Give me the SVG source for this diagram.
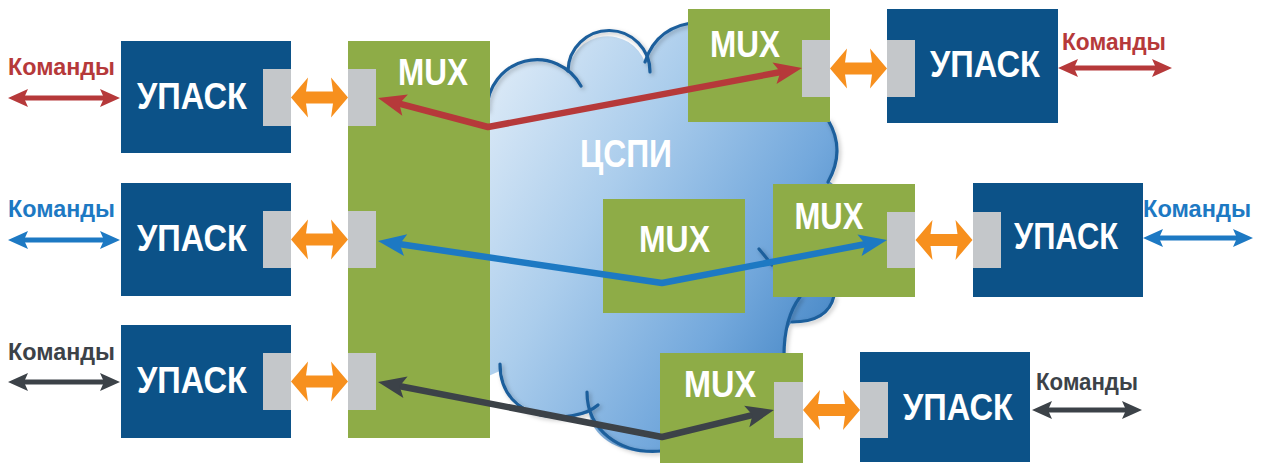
<svg xmlns="http://www.w3.org/2000/svg" width="1265" height="466" viewBox="0 0 1265 466">
<defs>
<style>
.upask{fill:#0c5288}
.mux{fill:#8eac47}
.port{fill:#c4c7ca}
.t{font-family:"Liberation Sans",Arial,sans-serif;font-weight:bold;fill:#fff;font-size:36px}
.cmd{font-family:"Liberation Sans",Arial,sans-serif;font-weight:bold;font-size:23px}
.net{fill:none;stroke-width:6.5;stroke-linejoin:round}
.cl{fill:none;stroke-width:5}
.co{fill:none;stroke:#1d5f9c;stroke-width:3.2;stroke-linecap:round}
</style>
<linearGradient id="cg" x1="0" y1="0.15" x2="1" y2="0.85">
<stop offset="0" stop-color="#dceaf7"/>
<stop offset="0.35" stop-color="#abcdec"/>
<stop offset="0.7" stop-color="#73a8dc"/>
<stop offset="1" stop-color="#3a7ec0"/>
</linearGradient>
<filter id="sh" x="-10%" y="-10%" width="120%" height="120%">
<feDropShadow dx="2" dy="2" stdDeviation="2" flood-color="#000" flood-opacity="0.25"/>
</filter>
<marker id="hR" markerUnits="userSpaceOnUse" viewBox="-14 -13 32 26" markerWidth="32" markerHeight="26" refX="0" refY="0" orient="auto-start-reverse"><path d="M16,0 L-12,-11 L-6,0 L-12,11 Z" fill="#b6393a"/></marker>
<marker id="hB" markerUnits="userSpaceOnUse" viewBox="-14 -13 32 26" markerWidth="32" markerHeight="26" refX="0" refY="0" orient="auto-start-reverse"><path d="M16,0 L-12,-11 L-6,0 L-12,11 Z" fill="#1d79c3"/></marker>
<marker id="hD" markerUnits="userSpaceOnUse" viewBox="-14 -13 32 26" markerWidth="32" markerHeight="26" refX="0" refY="0" orient="auto-start-reverse"><path d="M16,0 L-12,-11 L-6,0 L-12,11 Z" fill="#3c4248"/></marker>
<marker id="sR" markerUnits="userSpaceOnUse" viewBox="-8 -10 24 20" markerWidth="24" markerHeight="20" refX="0" refY="0" orient="auto-start-reverse"><path d="M14,0 L-6,-9 L-2,0 L-6,9 Z" fill="#b6393a"/></marker>
<marker id="sB" markerUnits="userSpaceOnUse" viewBox="-8 -10 24 20" markerWidth="24" markerHeight="20" refX="0" refY="0" orient="auto-start-reverse"><path d="M14,0 L-6,-9 L-2,0 L-6,9 Z" fill="#1d79c3"/></marker>
<marker id="sD" markerUnits="userSpaceOnUse" viewBox="-8 -10 24 20" markerWidth="24" markerHeight="20" refX="0" refY="0" orient="auto-start-reverse"><path d="M14,0 L-6,-9 L-2,0 L-6,9 Z" fill="#3c4248"/></marker>
<path id="oa" d="M0,0 L17,-20 L15,-6 L42,-6 L40,-20 L57,0 L40,20 L42,6 L15,6 L17,20 Z" fill="#f7901e"/>
</defs>

<g id="cloud">
<path fill="url(#cg)" d="M484,118 L487,110 A50 50 0 0 1 568,71 A40 40 0 0 1 645,62 C652,40 668,24 700,22 L760,20 L826,118 Q845,148 828,180 L840,190 L840,296 L833,297 Q828,322 792,322 Q784,330 784,356 L790,455 L662,450 C628,458 592,440 589,413 C570,420 505,420 502,370 L484,378 Z"/>
<g filter="url(#sh)">
<path class="co" d="M487,110 A50 50 0 0 1 581,86"/>
<path class="co" d="M568,71 A40 40 0 0 1 650,72"/>
<path class="co" d="M645,62 C652,40 668,24 700,22"/>
<path class="co" d="M828,120 Q846,150 828,182"/>
<path class="co" d="M834,296 Q828,322 792,322"/>
<path class="co" d="M800,297 Q784,318 784,356"/>
<path class="co" d="M587,392 C587,430 620,455 662,451"/>
<path class="co" d="M500,364 C500,425 575,425 598,405"/>
<path class="co" d="M759,249 Q765,256 772,265"/>
</g>
<text class="t" x="626" y="167" font-size="39" text-anchor="middle" textLength="92" lengthAdjust="spacingAndGlyphs" style="font-size:39px">ЦСПИ</text>
</g>

<g id="mux-left">
<rect class="mux" x="348" y="41" width="142" height="397"/>
<rect class="port" x="348" y="69" width="28" height="57"/>
<rect class="port" x="348" y="211" width="28" height="57"/>
<rect class="port" x="348" y="353" width="28" height="57"/>
<text class="t" x="433" y="85" text-anchor="middle" textLength="70" lengthAdjust="spacingAndGlyphs">MUX</text>
</g>
<g id="upask-l1">
<rect class="upask" x="121" y="41" width="170" height="112"/>
<rect class="port" x="263" y="69" width="28" height="57"/>
<text class="t" x="192" y="109" text-anchor="middle" textLength="110" lengthAdjust="spacingAndGlyphs">УПАСК</text>
</g>
<g id="upask-l2">
<rect class="upask" x="121" y="183" width="170" height="113"/>
<rect class="port" x="263" y="211" width="28" height="57"/>
<text class="t" x="192" y="251" text-anchor="middle" textLength="110" lengthAdjust="spacingAndGlyphs">УПАСК</text>
</g>
<g id="upask-l3">
<rect class="upask" x="121" y="325" width="170" height="113"/>
<rect class="port" x="263" y="353" width="28" height="57"/>
<text class="t" x="192" y="393" text-anchor="middle" textLength="110" lengthAdjust="spacingAndGlyphs">УПАСК</text>
</g>
<g id="mux-r1">
<rect class="mux" x="688" y="9" width="142" height="113"/>
<rect class="port" x="802" y="40" width="28" height="57"/>
<text class="t" x="745" y="57" text-anchor="middle" textLength="70" lengthAdjust="spacingAndGlyphs">MUX</text>
</g>
<g id="upask-r1">
<rect class="upask" x="887" y="9" width="171" height="114"/>
<rect class="port" x="887" y="40" width="28" height="57"/>
<text class="t" x="985" y="77" text-anchor="middle" textLength="110" lengthAdjust="spacingAndGlyphs">УПАСК</text>
</g>
<g id="mux-center">
<rect class="mux" x="603" y="199" width="142" height="114"/>
<text class="t" x="674.5" y="252" text-anchor="middle" textLength="71" lengthAdjust="spacingAndGlyphs">MUX</text>
</g>
<g id="mux-r2">
<rect class="mux" x="773" y="184" width="142" height="113"/>
<rect class="port" x="887" y="212" width="28" height="56"/>
<text class="t" x="829" y="229" text-anchor="middle" textLength="69" lengthAdjust="spacingAndGlyphs">MUX</text>
</g>
<g id="upask-r2">
<rect class="upask" x="973" y="183" width="170" height="114"/>
<rect class="port" x="973" y="212" width="28" height="56"/>
<text class="t" x="1066" y="249" text-anchor="middle" textLength="104" lengthAdjust="spacingAndGlyphs">УПАСК</text>
</g>
<g id="mux-r3">
<rect class="mux" x="660" y="353" width="143" height="110"/>
<rect class="port" x="774" y="382" width="29" height="56"/>
<text class="t" x="720" y="397" text-anchor="middle" textLength="72" lengthAdjust="spacingAndGlyphs">MUX</text>
</g>
<g id="upask-r3">
<rect class="upask" x="860" y="352" width="170" height="110"/>
<rect class="port" x="860" y="382" width="28" height="56"/>
<text class="t" x="958" y="420" text-anchor="middle" textLength="110" lengthAdjust="spacingAndGlyphs">УПАСК</text>
</g>

<g id="connectors">
<use href="#oa" x="291" y="97.5"/>
<use href="#oa" x="291" y="239.5"/>
<use href="#oa" x="291" y="381.5"/>
<use href="#oa" x="830" y="68.5"/>
<use href="#oa" x="915.5" y="240"/>
<use href="#oa" x="803" y="410"/>
<path class="net" stroke="#b6393a" marker-start="url(#hR)" marker-end="url(#hR)" d="M393.5,102.1 L488,127 L786.3,71"/>
<path class="net" stroke="#1d79c3" marker-start="url(#hB)" marker-end="url(#hB)" d="M393.8,243.3 L662,283 L871.3,243"/>
<path class="net" stroke="#3c4248" marker-start="url(#hD)" marker-end="url(#hD)" d="M393.7,385 L662,437 L758.4,413.7"/>
<path class="cl" stroke="#b6393a" marker-start="url(#sR)" marker-end="url(#sR)" d="M22,98 L106,98"/>
<path class="cl" stroke="#1d79c3" marker-start="url(#sB)" marker-end="url(#sB)" d="M22,240 L106,240"/>
<path class="cl" stroke="#3c4248" marker-start="url(#sD)" marker-end="url(#sD)" d="M22,382 L106,382"/>
<path class="cl" stroke="#b6393a" marker-start="url(#sR)" marker-end="url(#sR)" d="M1072,68 L1158,68"/>
<path class="cl" stroke="#1d79c3" marker-start="url(#sB)" marker-end="url(#sB)" d="M1157,238 L1239,238"/>
<path class="cl" stroke="#3c4248" marker-start="url(#sD)" marker-end="url(#sD)" d="M1046,410 L1128,410"/>
<text class="cmd" x="8" y="75" fill="#b6393a" textLength="107" lengthAdjust="spacingAndGlyphs">Команды</text>
<text class="cmd" x="8" y="217" fill="#1d79c3" textLength="107" lengthAdjust="spacingAndGlyphs">Команды</text>
<text class="cmd" x="8" y="360" fill="#3c4248" textLength="107" lengthAdjust="spacingAndGlyphs">Команды</text>
<text class="cmd" x="1062" y="50" fill="#b6393a" textLength="104" lengthAdjust="spacingAndGlyphs">Команды</text>
<text class="cmd" x="1143" y="217" fill="#1d79c3" textLength="108" lengthAdjust="spacingAndGlyphs">Команды</text>
<text class="cmd" x="1036" y="390" fill="#3c4248" textLength="102" lengthAdjust="spacingAndGlyphs">Команды</text>
</g>
</svg>
